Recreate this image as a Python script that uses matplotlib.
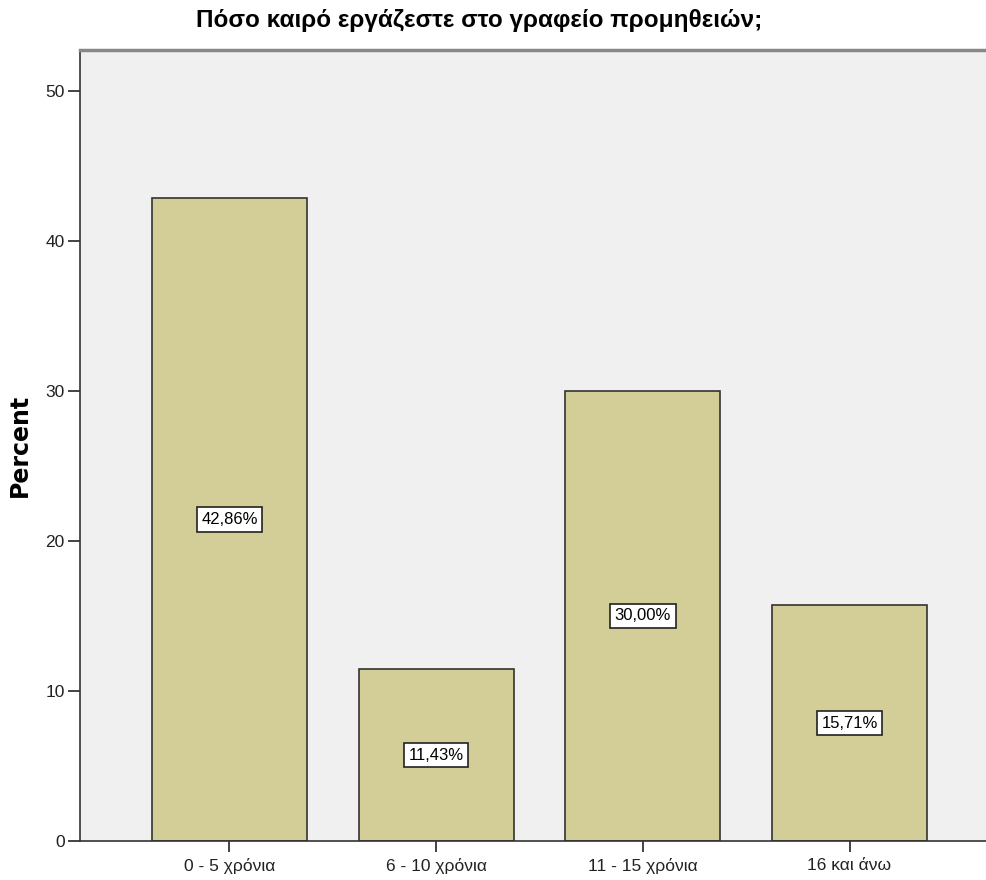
import matplotlib
matplotlib.use('Agg')
import matplotlib.pyplot as plt
from matplotlib import font_manager

categories = ['0 - 5 χρόνια', '6 - 10 χρόνια', '11 - 15 χρόνια', '16 και άνω']
percents = [42.86, 11.43, 30.00, 15.71]
labels = ['42,86%', '11,43%', '30,00%', '15,71%']
yticks = [0, 10, 20, 30, 40, 50]

names = {f.name for f in font_manager.fontManager.ttflist}
narrow = 'Liberation Sans Narrow' if 'Liberation Sans Narrow' in names else 'Liberation Sans'
plt.rcParams['font.family'] = [narrow, 'DejaVu Sans']

fig = plt.figure(figsize=(9.87, 8.8), dpi=100)
ax = fig.add_axes([80 / 987, 39 / 880, 1 - 80 / 987, 791 / 880])
ax.set_facecolor('#f0f0f0')

x = list(range(len(categories)))
ax.bar(x, percents, width=0.75, color='#d3ce97', edgecolor='#333333', linewidth=1.2, zorder=2)

for xi, p, lab in zip(x, percents, labels):
    ax.text(xi, p / 2, lab, ha='center', va='center', fontsize=12, zorder=3,
            bbox=dict(boxstyle='square,pad=0.28', facecolor='white', edgecolor='#222222', linewidth=1.2))

ax.set_xlim(-0.723, 3.665)
ax.set_ylim(0, 52.7)
ax.set_yticks(yticks)
ax.set_xticks(x)
ax.set_xticklabels(categories, fontsize=12.5)
ax.tick_params(axis='y', labelsize=12.5, length=9, width=1.2, pad=2, colors='#222222')
ax.tick_params(axis='x', length=8, width=1.2, pad=4, colors='#222222')

ax.spines['right'].set_visible(False)
ax.spines['top'].set_color('#888888')
ax.spines['top'].set_linewidth(2.5)
ax.spines['left'].set_color('#333333')
ax.spines['bottom'].set_color('#333333')
ax.spines['left'].set_linewidth(1.2)
ax.spines['bottom'].set_linewidth(1.2)

ax.set_ylabel('Percent', fontsize=17, fontweight='bold', family='DejaVu Sans', labelpad=10)
fig.text(0.485, 0.977, 'Πόσο καιρό εργάζεστε στο γραφείο προμηθειών;', ha='center', va='center',
         fontsize=17.5, fontweight='bold')

fig.savefig('out.png', dpi=100)
